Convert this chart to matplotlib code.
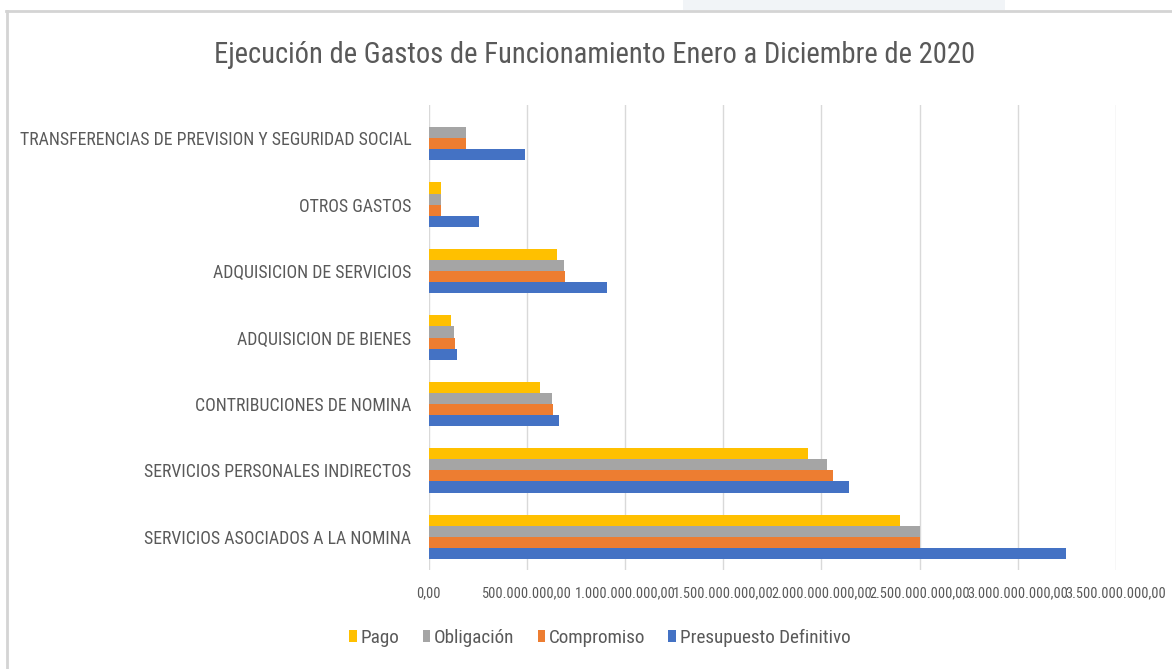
import matplotlib
matplotlib.use("Agg")
import matplotlib.pyplot as plt
from matplotlib.patches import Rectangle
from matplotlib import font_manager
from matplotlib.font_manager import FontProperties
import numpy as np
import os

# ---- data (values in pesos) ----
categories = [
    "SERVICIOS ASOCIADOS A LA NOMINA",
    "SERVICIOS PERSONALES INDIRECTOS",
    "CONTRIBUCIONES DE NOMINA",
    "ADQUISICION DE BIENES",
    "ADQUISICION DE SERVICIOS",
    "OTROS GASTOS",
    "TRANSFERENCIAS DE PREVISION Y SEGURIDAD SOCIAL",
]
presupuesto = [3243e6, 2142e6, 661e6, 143e6, 907e6, 255e6, 489e6]
compromiso = [2502e6, 2057e6, 634e6, 136e6, 696e6, 64e6, 190e6]
obligacion = [2500e6, 2030e6, 627e6, 130e6, 691e6, 64e6, 190e6]
pago = [2399e6, 1930e6, 567e6, 112e6, 652e6, 64e6, 0]
series_names = ["Presupuesto Definitivo", "Compromiso", "Obligación", "Pago"]
colors = ["#4472C4", "#ED7D31", "#A5A5A5", "#FFC000"]
xticks = [0, 500e6, 1000e6, 1500e6, 2000e6, 2500e6, 3000e6, 3500e6]

# ---- find a narrow/condensed font ----
files = [f.fname for f in font_manager.fontManager.ttflist]
prefs = ["liberationsansnarrow-regular", "robotocondensed-regular", "roboto_condensed-regular",
         "opensans_condensed-regular", "opensanscondensed-regular", "opensans-condensedregular",
         "notosans-condensed.", "notosans-condensedregular", "dejavusanscondensed."]
chosen = None
for p in prefs:
    for f in files:
        if p in os.path.basename(f).lower().replace(" ", ""):
            chosen = f
            break
    if chosen:
        break
if chosen is None:
    for f in files:
        b = os.path.basename(f).lower()
        if ("narrow" in b or "condensed" in b) and "bold" not in b and "italic" not in b \
                and "oblique" not in b and "light" not in b and "extra" not in b and "semi" not in b:
            chosen = f
            break

def fp(size):
    if chosen:
        return FontProperties(fname=chosen, size=size)
    return FontProperties(family="DejaVu Sans", size=size * 0.8)

txt = "#595959"
W, H = 1172, 669
fig = plt.figure(figsize=(W / 100, H / 100), dpi=100)
fig.patch.set_facecolor("white")

# frame artifacts
fig.patches.append(Rectangle((683 / W, 1 - 10 / H), (1005 - 683) / W, 10 / H,
                             transform=fig.transFigure, facecolor="#f1f4f7",
                             edgecolor="none", zorder=0))
fig.add_artist(plt.Line2D([6 / W, 1], [1 - 11 / H, 1 - 11 / H], transform=fig.transFigure,
                          color="#d4d4d4", lw=2))
fig.add_artist(plt.Line2D([7 / W, 7 / W], [0, 1 - 11 / H], transform=fig.transFigure,
                          color="#d4d4d4", lw=2))

ax = fig.add_axes([428.7 / W, 1 - 570 / H, (1116 - 428.7) / W, (570 - 105) / H])
y = np.arange(len(categories))
h = 0.1667
data = [presupuesto, compromiso, obligacion, pago]
offs = [-1.5 * h, -0.5 * h, 0.5 * h, 1.5 * h]
for vals, c, o, n in zip(data, colors, offs, series_names):
    ax.barh(y + o, vals, height=h, color=c, label=n, zorder=3)

ax.set_xlim(0, 3500e6)
ax.set_ylim(-0.5, len(categories) - 0.5)
ax.set_xticks(xticks)
def fmt(v):
    s = f"{v:,.2f}"
    return s.replace(",", "X").replace(".", ",").replace("X", ".")
ax.set_xticklabels([fmt(v) for v in xticks], fontproperties=fp(10.4), color=txt)
ax.set_yticks(y)
ax.set_yticklabels(categories, fontproperties=fp(12.8), color=txt)
ax.tick_params(axis="both", length=0)
ax.tick_params(axis="x", pad=12)
ax.tick_params(axis="y", pad=12.5)
ax.grid(axis="x", color="#d9d9d9", lw=1, zorder=0)
for s in ax.spines.values():
    s.set_visible(False)

fig.text(595 / W, 1 - 55 / H, "Ejecución de Gastos de Funcionamiento Enero a Diciembre de 2020",
         ha="center", va="center", fontproperties=fp(20.6), color=txt)

handles, labels = ax.get_legend_handles_labels()
order = [3, 2, 1, 0]
fig.legend([handles[i] for i in order], [labels[i] for i in order],
           loc="center", bbox_to_anchor=(600 / W, 1 - 638 / H), ncol=4, frameon=False,
           prop=fp(13.8), labelcolor=txt, handlelength=0.4, handleheight=0.55,
           handletextpad=0.2, columnspacing=1.2)

fig.savefig("out.png", dpi=100)
